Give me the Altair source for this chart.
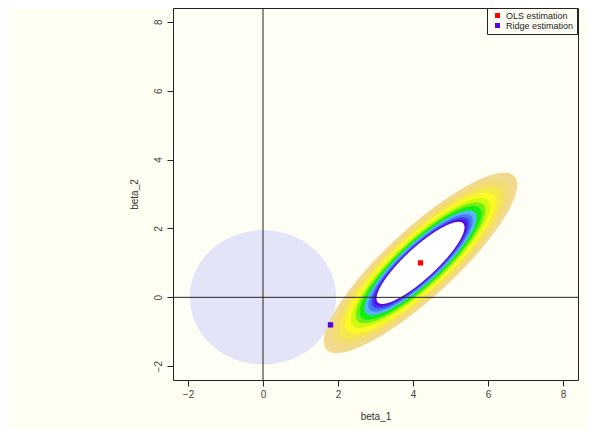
import numpy as np
import pandas as pd
import altair as alt

# ---- data ----
x_ticks = [-2, 0, 2, 4, 6, 8]
y_ticks = [-2, 0, 2, 4, 6, 8]
axis_domain = [-2.4, 8.4]

constraint_center = [0.0, 0.0]
constraint_radius = 1.95

ols_estimate = [4.2, 1.0]
ridge_estimate = [1.8, -0.8]
estimate_names = ["OLS estimation", "Ridge estimation"]
estimate_colors = ["#FF0000", "#5500EE"]

# RSS contour ellipse (outer band), centred on the OLS estimate
ellipse_semi_major = 3.55
ellipse_semi_minor = 0.95
ellipse_angle_deg = 45.5
band_scales = [1.00, 0.91, 0.84, 0.78, 0.72, 0.67, 0.63, 0.58, 0.54, 0.505, 0.48, 0.455]
band_colors = ["#F1D98E", "#F3DC70", "#F7E84A", "#FCFA26", "#D0FA12", "#70F014",
               "#10F010", "#5AB4FA", "#4A78FA", "#3C3CF0", "#5A0ADC", "#FFFFFF"]

# ---- build shapes ----
N = 240
t = np.linspace(0, np.pi, N)

def circle_df(cx, cy, r):
    xs = r * np.cos(t)
    h = np.sqrt(np.clip(r ** 2 - xs ** 2, 0, None))
    return pd.DataFrame({"x": cx + xs, "y": cy - h, "y2": cy + h})

th = np.deg2rad(ellipse_angle_deg)
R = np.array([[np.cos(th), -np.sin(th)], [np.sin(th), np.cos(th)]])

def ellipse_df(s, band):
    a, b = ellipse_semi_major * s, ellipse_semi_minor * s
    M = R @ np.diag([1 / a ** 2, 1 / b ** 2]) @ R.T
    m11, m12, m22 = M[0, 0], M[0, 1], M[1, 1]
    dxmax = np.sqrt(m22 / (m11 * m22 - m12 ** 2))
    dx = dxmax * np.cos(t)
    disc = np.clip(m12 ** 2 * dx ** 2 - m22 * (m11 * dx ** 2 - 1), 0, None)
    lo = (-m12 * dx - np.sqrt(disc)) / m22
    hi = (-m12 * dx + np.sqrt(disc)) / m22
    return pd.DataFrame({"x": ols_estimate[0] + dx, "y": ols_estimate[1] + lo,
                         "y2": ols_estimate[1] + hi, "band": band})

xs_scale = alt.Scale(domain=axis_domain, nice=False, zero=False)
ys_scale = alt.Scale(domain=axis_domain, nice=False, zero=False)

font = "Liberation Sans"
x_axis = alt.Axis(values=x_ticks, title="beta_1", grid=False, domain=False, tickSize=6,
                  tickColor="#222", labelFontSize=10, labelColor="#444", labelPadding=3,
                  titleFontSize=10, titleFontWeight="normal", titleColor="#333", titlePadding=12,
                  labelFont=font, titleFont=font)
y_axis = alt.Axis(values=y_ticks, title="beta_2", grid=False, domain=False, tickSize=6,
                  tickColor="#222", labelFontSize=10, labelColor="#444", labelPadding=4,
                  labelAngle=270, labelAlign="center", labelBaseline="bottom",
                  titleFontSize=10, titleFontWeight="normal", titleColor="#333", titlePadding=14,
                  labelFont=font, titleFont=font)

circ = alt.Chart(circle_df(*constraint_center, constraint_radius)).mark_area(
    color="#E4E4F8", opacity=1).encode(
    x=alt.X("x:Q", scale=xs_scale, axis=x_axis),
    y=alt.Y("y:Q", scale=ys_scale, axis=y_axis),
    y2="y2:Q")

layers = [circ]
for i, (s, c) in enumerate(zip(band_scales, band_colors)):
    layers.append(alt.Chart(ellipse_df(s, i)).mark_area(color=c, opacity=1).encode(
        x=alt.X("x:Q", scale=xs_scale), y=alt.Y("y:Q", scale=ys_scale), y2="y2:Q"))

zero_df = pd.DataFrame({"v": [0.0]})
hline = alt.Chart(zero_df).mark_rule(color="#222", strokeWidth=1).encode(
    y=alt.Y("v:Q", scale=ys_scale))
vline = alt.Chart(zero_df).mark_rule(color="#222", strokeWidth=1).encode(
    x=alt.X("v:Q", scale=xs_scale))
layers += [hline, vline]

pts = pd.DataFrame({"x": [ols_estimate[0], ridge_estimate[0]],
                    "y": [ols_estimate[1], ridge_estimate[1]],
                    "name": estimate_names})
points = alt.Chart(pts).mark_point(shape="square", filled=True, size=28, opacity=1).encode(
    x=alt.X("x:Q", scale=xs_scale),
    y=alt.Y("y:Q", scale=ys_scale),
    color=alt.Color("name:N", scale=alt.Scale(domain=estimate_names, range=estimate_colors),
                    legend=alt.Legend(title=None, orient="none", legendX=314, legendY=0,
                                      symbolType="square", symbolSize=25, labelFontSize=9,
                                      labelFont=font, labelColor="#222", padding=3,
                                      rowPadding=0, strokeColor="#222", fillColor="#FFFEF4",
                                      symbolOffset=3, labelOffset=4, labelLimit=200)))
layers.append(points)

chart = alt.layer(*layers).properties(
    width=405, height=372,
    autosize=alt.AutoSizeParams(type="none"),
    padding={"left": 165, "top": 0, "right": 10, "bottom": 50},
    background="#FFFEF2",
).configure_view(stroke="#222", strokeWidth=1, fill="#FFFEF4")

chart.save("out.html", embed_options={"renderer": "svg", "actions": False})
